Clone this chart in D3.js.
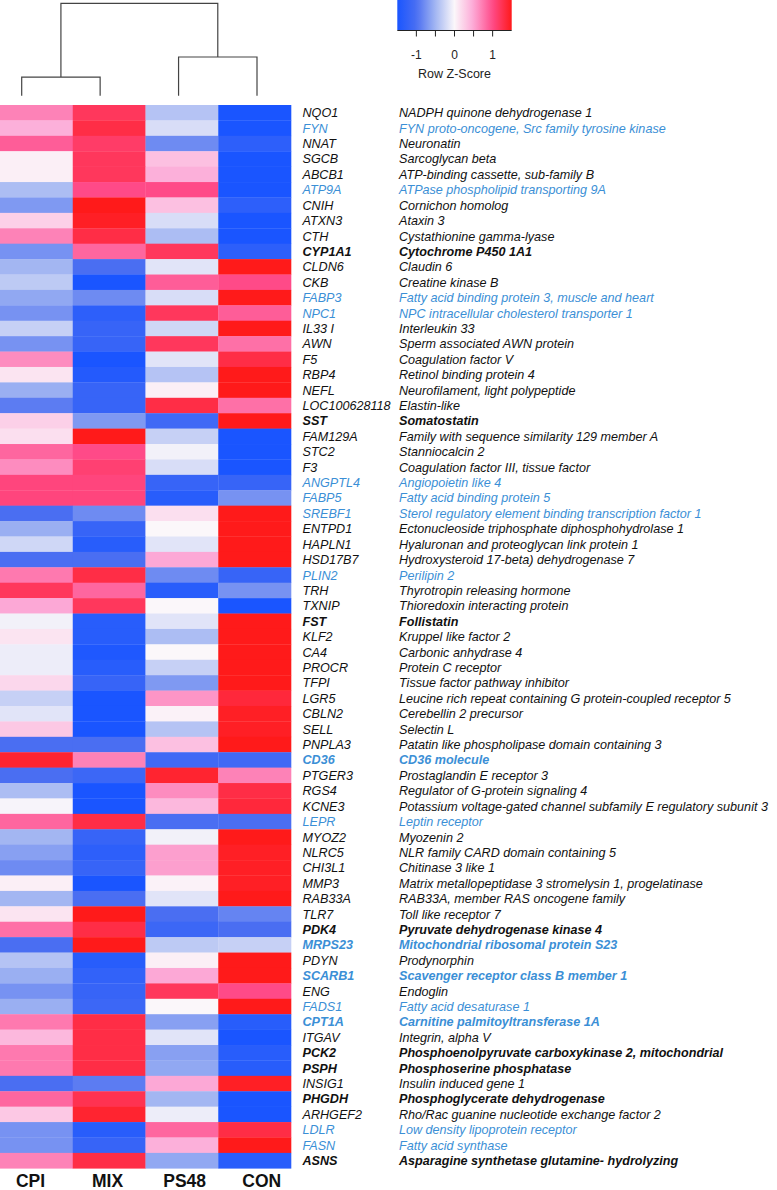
<!DOCTYPE html>
<html>
<head>
<meta charset="utf-8">
<script src="https://cdn.jsdelivr.net/npm/d3@7"></script>
<style>
  html, body { margin: 0; padding: 0; background: #fff; }
  svg { display: block; font-family: "Liberation Sans", Arial, sans-serif; }
</style>
</head>
<body>
<svg id="chart" width="777" height="1190"></svg>
<script>
// ---------------- DATA ----------------
const columns = ["CPI", "MIX", "PS48", "CON"];

const genes = ["NQO1","FYN","NNAT","SGCB","ABCB1","ATP9A","CNIH","ATXN3","CTH","CYP1A1",
  "CLDN6","CKB","FABP3","NPC1","IL33 I","AWN","F5","RBP4","NEFL","LOC100628118",
  "SST","FAM129A","STC2","F3","ANGPTL4","FABP5","SREBF1","ENTPD1","HAPLN1","HSD17B7",
  "PLIN2","TRH","TXNIP","FST","KLF2","CA4","PROCR","TFPI","LGR5","CBLN2",
  "SELL","PNPLA3","CD36","PTGER3","RGS4","KCNE3","LEPR","MYOZ2","NLRC5","CHI3L1",
  "MMP3","RAB33A","TLR7","PDK4","MRPS23","PDYN","SCARB1","ENG","FADS1","CPT1A",
  "ITGAV","PCK2","PSPH","INSIG1","PHGDH","ARHGEF2","LDLR","FASN","ASNS"];

const descriptions = ["NADPH quinone dehydrogenase 1","FYN proto-oncogene, Src family tyrosine kinase",
  "Neuronatin","Sarcoglycan beta","ATP-binding cassette, sub-family B","ATPase phospholipid transporting 9A",
  "Cornichon homolog","Ataxin 3","Cystathionine gamma-lyase","Cytochrome P450 1A1",
  "Claudin 6","Creatine kinase B","Fatty acid binding protein 3, muscle and heart",
  "NPC intracellular cholesterol transporter 1","Interleukin 33","Sperm associated AWN protein",
  "Coagulation factor V","Retinol binding protein 4","Neurofilament, light polypeptide","Elastin-like",
  "Somatostatin","Family with sequence similarity 129 member A","Stanniocalcin 2",
  "Coagulation factor III, tissue factor","Angiopoietin like 4","Fatty acid binding protein 5",
  "Sterol regulatory element binding transcription factor 1","Ectonucleoside triphosphate diphosphohydrolase 1",
  "Hyaluronan and proteoglycan link protein 1","Hydroxysteroid 17-beta) dehydrogenase 7",
  "Perilipin 2","Thyrotropin releasing hormone","Thioredoxin interacting protein","Follistatin",
  "Kruppel like factor 2","Carbonic anhydrase 4","Protein C receptor","Tissue factor pathway inhibitor",
  "Leucine rich repeat containing G protein-coupled receptor 5","Cerebellin 2 precursor",
  "Selectin L","Patatin like phospholipase domain containing 3","CD36 molecule",
  "Prostaglandin E receptor 3","Regulator of G-protein signaling 4",
  "Potassium voltage-gated channel subfamily E regulatory subunit 3","Leptin receptor","Myozenin 2",
  "NLR family CARD domain containing 5","Chitinase 3 like 1",
  "Matrix metallopeptidase 3 stromelysin 1, progelatinase","RAB33A, member RAS oncogene family",
  "Toll like receptor 7","Pyruvate dehydrogenase kinase 4","Mitochondrial ribosomal protein S23",
  "Prodynorphin","Scavenger receptor class B member 1","Endoglin","Fatty acid desaturase 1",
  "Carnitine palmitoyltransferase 1A","Integrin, alpha V",
  "Phosphoenolpyruvate carboxykinase 2, mitochondrial","Phosphoserine phosphatase",
  "Insulin induced gene 1","Phosphoglycerate dehydrogenase",
  "Rho/Rac guanine nucleotide exchange factor 2","Low density lipoprotein receptor",
  "Fatty acid synthase","Asparagine synthetase glutamine- hydrolyzing"];

// genes highlighted in blue (lipid metabolism) and in bold
const lipidGenes = ["FYN","ATP9A","FABP3","NPC1","ANGPTL4","FABP5","SREBF1","PLIN2","CD36",
  "LEPR","MRPS23","SCARB1","FADS1","CPT1A","LDLR","FASN"];
const boldGenes = ["CYP1A1","SST","FST","CD36","PDK4","MRPS23","SCARB1","CPT1A","PCK2",
  "PSPH","PHGDH","ASNS"];

// row z-scores, one array per column (same order as genes)
const valuesCPI = [0.7,0.45,0.9,0.05,0.05,-0.45,-0.7,0.25,0.7,-0.75,
  -0.5,-0.35,-0.6,-0.75,-0.3,-0.75,0.65,0.12,-0.55,-0.9,
  0.25,0.15,0.85,0.65,1.05,1.05,-1.0,-0.55,-0.25,-1.0,
  0.75,1.2,0.5,-0.05,0.12,-0.08,-0.08,0.2,-0.3,-0.15,
  0.3,-1.0,1.4,-1.0,-0.45,-0.02,0.85,-0.5,-0.65,-0.8,
  0.05,-0.5,0.12,0.8,-1.0,-0.4,-0.55,-0.75,-0.55,0.75,
  0.4,0.75,0.75,-1.0,0.85,0.3,-0.75,-0.75,0.7];
const valuesMIX = [1.2,1.3,1.15,1.2,1.2,1.0,1.5,1.45,1.3,0.85,
  -1.0,-1.5,-0.8,-1.3,-1.2,-1.2,-1.5,-1.4,-1.2,-1.2,
  -0.7,1.5,1.0,1.1,1.05,1.05,-0.8,-1.2,-1.35,-1.0,
  1.3,0.85,1.2,-1.35,-1.35,-1.45,-1.35,-1.2,-1.5,-1.5,
  -1.5,-1.0,0.7,-1.15,-1.5,-1.5,1.3,-1.2,-1.3,-1.2,
  -1.5,-1.0,1.5,1.3,1.5,-1.35,-1.25,-1.2,-1.15,1.3,
  1.3,1.3,1.3,-0.9,1.25,1.4,-1.35,-1.2,1.3];
const valuesPS48 = [-0.4,-0.2,-0.8,0.35,0.45,1.0,0.35,-0.2,-0.45,1.2,
  -0.15,0.9,-0.2,1.2,-0.25,1.2,-0.15,-0.4,0.05,1.3,
  -1.1,-0.3,-0.05,-0.2,-1.2,-1.35,0.15,0.0,-0.15,0.5,
  -0.8,-1.35,0.0,-0.15,-0.45,0.0,-0.3,-0.7,0.6,0.03,
  -0.4,0.35,-1.1,1.4,0.65,0.4,-1.0,-0.05,0.55,0.55,
  0.03,-0.15,-1.0,-1.15,-0.35,0.05,0.5,1.2,0.0,-0.65,
  -0.15,-0.65,-0.6,0.5,-0.5,-0.08,0.85,0.45,-0.6];
const valuesCON = [-1.5,-1.5,-1.3,-1.5,-1.5,-1.5,-1.3,-1.5,-1.5,-1.3,
  1.5,1.0,1.5,0.9,1.5,0.8,1.3,1.5,1.5,0.8,
  1.5,-1.5,-1.5,-1.5,-1.2,-0.75,1.5,1.5,1.5,1.5,
  -1.2,-0.75,-1.5,1.5,1.5,1.5,1.5,1.5,1.35,1.45,
  1.45,1.5,-1.1,0.7,1.3,1.35,-1.0,1.5,1.45,1.45,
  1.45,1.5,-0.85,-1.0,-0.3,1.5,1.5,1.0,1.5,-1.35,
  -1.5,-1.35,-1.35,1.45,-1.5,-1.5,1.3,1.5,-1.35];

// column dendrogram (merge heights relative to root)
const dendro = { name: "root", height: 1.0, children: [
  { name: "A", height: 0.202, children: [{ name: "CPI", height: 0 }, { name: "MIX", height: 0 }] },
  { name: "B", height: 0.419, children: [{ name: "PS48", height: 0 }, { name: "CON", height: 0 }] }
]};

const legendTicks = [-1, -0.5, 0, 0.5, 1];
const legendLabels = [-1, 0, 1];

// ---------------- CHART ----------------
const svg = d3.select("#chart");
const valueCols = { CPI: valuesCPI, MIX: valuesMIX, PS48: valuesPS48, CON: valuesCON };

const color = d3.scaleLinear()
  .domain([-1.5, -1, -0.5, 0, 0.5, 1, 1.5])
  .range(["#1a55ff", "#4a6ef2", "#a3b6f2", "#fbf7fa", "#fca8d6", "#ff4a88", "#ff1a1a"])
  .clamp(true);

const x = d3.scaleBand().domain(columns).range([0, 291]);
const y = d3.scaleBand().domain(genes).range([105, 1168.3]);

// cells
const cells = [];
genes.forEach((g, i) => columns.forEach(c => cells.push({ gene: g, col: c, v: valueCols[c][i] })));
svg.append("g").selectAll("rect").data(cells).join("rect")
  .attr("x", d => x(d.col))
  .attr("y", d => y(d.gene))
  .attr("width", x.bandwidth() + 0.3)
  .attr("height", y.bandwidth() + 0.3)
  .attr("fill", d => color(d.v));

// row labels
const rowG = svg.append("g").attr("font-style", "italic").attr("font-size", 12.6);
genes.forEach((g, i) => {
  const fill = lipidGenes.includes(g) ? "#3b8fd6" : "#111";
  const weight = boldGenes.includes(g) ? "bold" : "normal";
  const cy = y(g) + y.bandwidth() / 2;
  rowG.append("text").attr("x", 302.5).attr("y", cy).attr("dy", "0.36em")
    .attr("fill", fill).attr("font-weight", weight).text(g);
  rowG.append("text").attr("x", 399).attr("y", cy).attr("dy", "0.36em")
    .attr("fill", fill).attr("font-weight", weight).text(descriptions[i]);
});

// column labels
const xl = d3.scalePoint().domain(columns).range([30.5, 261.7]);
svg.append("g").selectAll("text").data(columns).join("text")
  .attr("x", d => xl(d)).attr("y", 1186.5)
  .attr("text-anchor", "middle").attr("font-weight", "bold").attr("font-size", 17.5)
  .attr("fill", "#111").text(d => d);

// dendrogram
const root = d3.hierarchy(dendro);
const leafX = d3.scalePoint().domain(columns).range([21.7, 257]);
const hY = d3.scaleLinear().domain([0, 1]).range([95.7, 3.3]);
root.eachAfter(n => {
  n.px = n.children ? d3.mean(n.children, c => c.px) : leafX(n.data.name);
  n.py = hY(n.data.height);
});
const dg = svg.append("g").attr("stroke", "#444").attr("stroke-width", 1.2).attr("fill", "none");
root.each(n => {
  if (!n.children) return;
  const [a, b] = n.children;
  dg.append("path").attr("d",
    `M${a.px},${a.py}V${n.py}H${b.px}V${b.py}`);
});

// legend
const lx = d3.scaleLinear().domain([-1.5, 1.5]).range([397.3, 511.7]);
const defs = svg.append("defs");
const grad = defs.append("linearGradient").attr("id", "zgrad");
d3.range(0, 1.0001, 0.05).forEach(t => {
  grad.append("stop").attr("offset", (t * 100) + "%").attr("stop-color", color(-1.5 + 3 * t));
});
svg.append("rect").attr("x", lx(-1.5)).attr("y", 0)
  .attr("width", lx(1.5) - lx(-1.5)).attr("height", 30).attr("fill", "url(#zgrad)");
svg.append("line").attr("x1", lx(-1.5)).attr("x2", lx(1.5)).attr("y1", 30.5).attr("y2", 30.5)
  .attr("stroke", "#222").attr("stroke-width", 1);
svg.append("g").selectAll("line").data(legendTicks).join("line")
  .attr("x1", d => lx(d)).attr("x2", d => lx(d)).attr("y1", 30.5).attr("y2", 36.5)
  .attr("stroke", "#222").attr("stroke-width", 1);
svg.append("g").selectAll("text").data(legendLabels).join("text")
  .attr("x", d => lx(d)).attr("y", 59).attr("text-anchor", "middle")
  .attr("font-size", 12).attr("fill", "#222").text(d => d);
svg.append("text").attr("x", lx(0)).attr("y", 77.5).attr("text-anchor", "middle")
  .attr("font-size", 12.5).attr("fill", "#222").text("Row Z-Score");
</script>
</body>
</html>
